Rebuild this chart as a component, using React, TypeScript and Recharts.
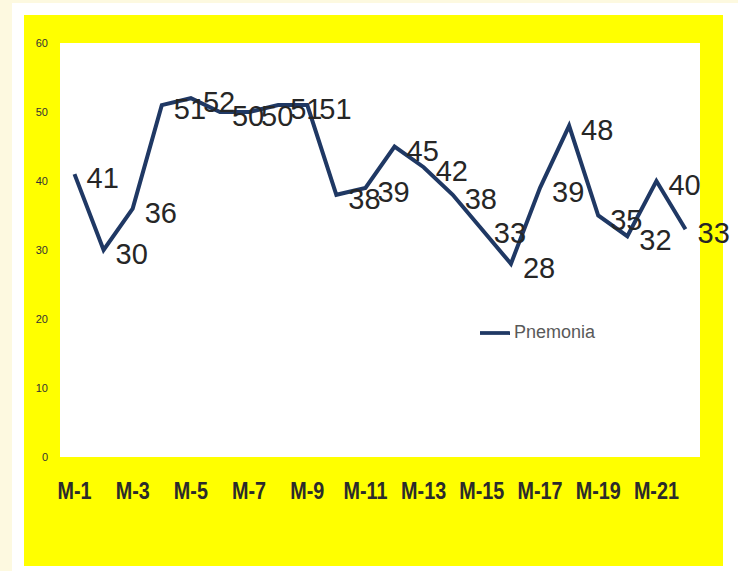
import React from "react";
import {
  LineChart,
  Line,
  XAxis,
  YAxis,
  CartesianGrid,
  Legend,
} from "recharts";

const months = [
  "M-1", "M-2", "M-3", "M-4", "M-5", "M-6", "M-7", "M-8", "M-9", "M-10", "M-11",
  "M-12", "M-13", "M-14", "M-15", "M-16", "M-17", "M-18", "M-19", "M-20", "M-21", "M-22",
];
const pnemonia = [41, 30, 36, 51, 52, 50, 50, 51, 51, 38, 39, 45, 42, 38, 33, 28, 39, 48, 35, 32, 40, 33];
const yTicks = [0, 10, 20, 30, 40, 50, 60];

const data = months.map((m, i) => ({ month: m, Pnemonia: pnemonia[i] }));

const SANS = "'Liberation Sans', Arial, sans-serif";

// Excel-style data label: to the right of the point, a little below
const renderLabel = (props: any) => {
  const { x, y, value, index } = props;
  return (
    <text
      key={`lbl-${index}`}
      x={x + 12}
      y={y + 4}
      fill="#262626"
      fontSize={29}
      fontFamily={SANS}
      textAnchor="start"
      dominantBaseline="central"
    >
      {value}
    </text>
  );
};

// bold, slightly condensed month labels
const MonthTick = (props: any) => {
  const { x, y, payload } = props;
  return (
    <g transform={`translate(${x},${y}) scale(0.86,1)`}>
      <text
        x={0}
        y={0}
        dy="0.71em"
        textAnchor="middle"
        fill="#2b2b2b"
        fontSize={23}
        fontWeight="bold"
        fontFamily={SANS}
      >
        {payload.value}
      </text>
    </g>
  );
};

export default function App() {
  return (
    <div
      style={{
        position: "absolute",
        left: 0,
        top: 0,
        width: 738,
        height: 571,
        background: "#fdf9e0",
        overflow: "hidden",
      }}
    >
      <style>{`.recharts-surface{overflow:visible}`}</style>
      <div
        style={{
          position: "absolute",
          left: 12,
          top: 3,
          width: 726,
          height: 568,
          background: "#ffffff",
        }}
      />
      <div
        style={{
          position: "absolute",
          left: 24,
          top: 15,
          width: 699,
          height: 551,
          background: "#ffff00",
        }}
      >
        <LineChart
          width={699}
          height={551}
          data={data}
          margin={{ top: 28, right: 23, left: 0, bottom: 0 }}
        >
          <CartesianGrid horizontal={false} vertical={false} fill="#ffffff" />
          <XAxis
            dataKey="month"
            interval={1}
            height={109}
            axisLine={false}
            tickLine={false}
            tickSize={0}
            tickMargin={26}
            padding={{ left: 14.5, right: 14.5 }}
            tick={<MonthTick />}
          />
          <YAxis
            width={36}
            domain={[0, 60]}
            ticks={yTicks}
            axisLine={false}
            tickLine={false}
            tickSize={0}
            tickMargin={12}
            tick={{ fill: "#333333", fontSize: 11, fontFamily: SANS }}
          />
          <Legend
            layout="horizontal"
            verticalAlign="middle"
            align="center"
            iconSize={30}
            wrapperStyle={{
              left: 456,
              top: 303,
              width: "auto",
              fontSize: 18,
              fontFamily: SANS,
            }}
            formatter={(value: string) => (
              <span style={{ color: "#595959" }}>{value}</span>
            )}
          />
          <Line
            type="linear"
            dataKey="Pnemonia"
            stroke="#1f3864"
            strokeWidth={4}
            dot={false}
            activeDot={false}
            legendType="plainline"
            label={renderLabel}
            isAnimationActive={false}
          />
        </LineChart>
      </div>
    </div>
  );
}
